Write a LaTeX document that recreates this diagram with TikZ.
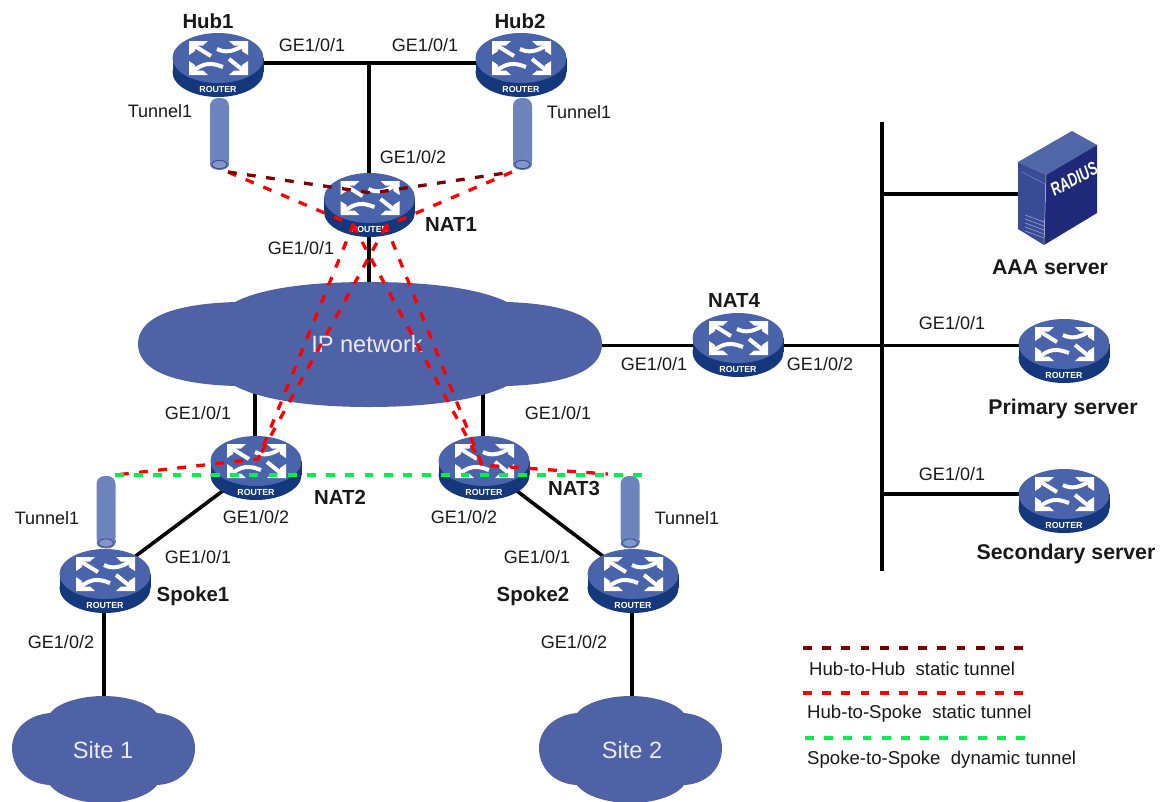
\documentclass[tikz,border=0pt]{standalone}
\usepackage{fontspec}
\usepackage{graphicx}
\setmainfont{Liberation Sans}
\usetikzlibrary{shapes.geometric}
\pgfdeclarelayer{background}
\pgfsetlayers{background,main}
\definecolor{rtop}{HTML}{4A64AC}
\definecolor{rbase}{HTML}{15377B}
\definecolor{cloudblue}{HTML}{4F62A5}
\definecolor{tubeblue}{HTML}{6C83BD}
\definecolor{tubeedge}{HTML}{3D5296}
\definecolor{hubbrown}{HTML}{7E0000}
\definecolor{tunred}{HTML}{FF0000}
\definecolor{tungreen}{HTML}{00F24A}
\definecolor{srvtop}{HTML}{4F66A8}
\definecolor{srvleft}{HTML}{3A4B96}
\definecolor{srvright}{HTML}{1E2A78}
\tikzset{
  lab/.style={inner sep=0pt,font=\fontsize{18}{20}\selectfont,text=black!90},
  boldlab/.style={inner sep=0pt,font=\fontsize{20.4}{22}\selectfont\bfseries,text=black!90},
  srvlab/.style={inner sep=0pt,font=\fontsize{21.3}{23}\selectfont\bfseries,text=black!90},
  leglab/.style={inner sep=0pt,anchor=west,font=\fontsize{18.6}{20}\selectfont,text=black!90},
  cloudlab/.style={inner sep=0pt,text=white!92!blue,font=\fontsize{23.6}{25}\selectfont},
  wire/.style={line width=3.6pt,black},
  dashline/.style={line width=3.3pt,dash pattern=on 8.8pt off 10.4pt},
  hubdash/.style={dashline,hubbrown},
  reddash/.style={dashline,tunred},
  greendash/.style={dashline,tungreen},
  cloudfill/.style={fill=cloudblue},
  routeranchor/.style={ellipse,inner sep=0pt,minimum width=90pt,minimum height=60pt},
  rlabel/.style={inner sep=0pt,text=white,font=\fontsize{8.8}{9}\selectfont\bfseries},
  glyph/.style={white,line width=4pt}
}
\newcommand{\RouterAt}[3]{%
  \begin{scope}[shift={(#2,#3)}]
    \fill[rbase] (-45.5,0) rectangle (45.5,14);
    \fill[rbase] (0,14) ellipse [x radius=45.5pt,y radius=25pt];
    \fill[rtop] (0,0) ellipse [x radius=45.5pt,y radius=25pt];
    \fill[white] (-29,-17) -- (-10,-17) -- (-15,-12.5) -- (-22.5,-12.5) -- (-23,-7) -- (-29,-3) -- cycle;
    \fill[white] (30,-17) -- (11,-17) -- (16,-12.5) -- (23.5,-12.5) -- (24,-7) -- (30,-3) -- cycle;
    \fill[white] (-29,17) -- (-10,17) -- (-15,12.5) -- (-22.5,12.5) -- (-23,7) -- (-29,3) -- cycle;
    \fill[white] (30,17) -- (11,17) -- (16,12.5) -- (23.5,12.5) -- (24,7) -- (30,3) -- cycle;
    \draw[glyph] (-25,-13) -- (-7,-2);
    \draw[glyph] (26,-13) .. controls (15,-6) and (7,-5) .. (-1,-9);
    \draw[glyph] (-25,13) .. controls (-14,5) and (-8,4) .. (5,9);
    \draw[glyph] (26,13) -- (11,1);
    \node[rlabel] (#1-mark) at (0,31) {ROUTER};
  \end{scope}
  \node[routeranchor] (#1) at (#2,#3+5) {};
}
\newcommand{\TubeAt}[4]{% name, x, ytop, ybottom-ellipse-centre
  \fill[tubeblue,rounded corners=8pt] (#2-9.5,#3) rectangle (#2+9.5,#4+3);
  \fill[tubeblue] (#2-9.5,#4-3) rectangle (#2+9.5,#4);
  \fill[tubeblue] (#2,#4) ellipse [x radius=9.5pt,y radius=5.5pt];
  \draw[tubeedge,line width=1pt,fill=tubeblue!85!white] (#2,#4) ellipse [x radius=7.5pt,y radius=4.2pt];
  \coordinate (#1) at (#2,#3);
}
\begin{document}
\begin{tikzpicture}[x=1pt,y=-1pt]
\useasboundingbox (0,0) rectangle (1164,801);

% clouds
\fill[cloudfill] (235,302) .. controls (262,288) and (310,282) .. (369,282)
  .. controls (428,282) and (478,288) .. (507,302)
  .. controls (568,304) and (602,318) .. (602,344)
  .. controls (602,370) and (568,384) .. (507,386)
  .. controls (478,400) and (428,407) .. (369,407)
  .. controls (310,407) and (262,400) .. (235,386)
  .. controls (172,384) and (138,370) .. (138,344)
  .. controls (138,318) and (172,304) .. (235,302) -- cycle;
\node[cloudlab] (ipnet) at (367,344) {IP network};
\fill[cloudfill] (50,713) .. controls (58,703) and (80,696) .. (103.5,696)
  .. controls (127,696) and (149,703) .. (157,713)
  .. controls (180,715) and (195,730) .. (195,748)
  .. controls (195,768) and (180,784) .. (157,785)
  .. controls (149,796) and (127,803) .. (103.5,803)
  .. controls (80,803) and (58,796) .. (50,785)
  .. controls (27,784) and (12,768) .. (12,748)
  .. controls (12,730) and (27,715) .. (50,713) -- cycle;
\node[cloudlab] (site1) at (103,750) {Site 1};
\fill[cloudfill] (577,713) .. controls (585,703) and (607,696) .. (630.5,696)
  .. controls (654,696) and (676,703) .. (684,713)
  .. controls (707,715) and (722,730) .. (722,748)
  .. controls (722,768) and (707,784) .. (684,785)
  .. controls (676,796) and (654,803) .. (630.5,803)
  .. controls (607,803) and (585,796) .. (577,785)
  .. controls (554,784) and (539,768) .. (539,748)
  .. controls (539,730) and (554,715) .. (577,713) -- cycle;
\node[cloudlab] (site2) at (632,750) {Site 2};

% routers
\RouterAt{hub1}{218}{58}
\RouterAt{hub2}{521}{58}
\RouterAt{nat1}{369.5}{198}
\RouterAt{nat2}{256}{461}
\RouterAt{nat3}{484}{461}
\RouterAt{nat4}{738}{338}
\RouterAt{spoke1}{105}{574}
\RouterAt{spoke2}{633}{574}
\RouterAt{primary}{1064}{344}
\RouterAt{secondary}{1064}{494}

% tunnels
\TubeAt{tub1}{219.5}{98}{164.5}
\TubeAt{tub2}{522.5}{98}{164.5}
\TubeAt{tub3}{106}{476}{543}
\TubeAt{tub4}{630}{476}{543}

% RADIUS server
\fill[srvtop] (1018,162) -- (1072,131) -- (1097,145) -- (1046,175) -- cycle;
\fill[srvleft] (1018,162) -- (1046,175) -- (1044,245) -- (1018,229) -- cycle;
\fill[srvright] (1046,175) -- (1097,145) -- (1097,213) -- (1044,245) -- cycle;
\draw[white!70!srvleft,line width=.5pt] (1046,175) -- (1044,245);
\draw[srvtop!80!white,line width=.6pt] (1022,172) -- (1045,184);
\foreach \vy in {215,219,223,227,231}{
  \draw[srvtop!60!white,line width=.6pt] (1025,\vy) -- (1044,\vy+7);
}
\node[inner sep=0pt,rotate=28,text=white,font=\fontsize{13.2}{14}\selectfont\bfseries\itshape] (radiustext) at (1074,179) {\scalebox{1}[1.4]{RADIUS}};
\node[inner sep=0pt,minimum width=2pt,minimum height=2pt] (aaa) at (1020,194) {};

% junctions and free ends
\coordinate (jtop) at (369,63);
\coordinate (ipn) at (369,300);
\coordinate (ipsw) at (255,380);
\coordinate (ipse) at (483,380);
\coordinate (ipe) at (590,345.5);
\coordinate (bust) at (882,122);
\coordinate (busb) at (882,571);
\coordinate (bus1) at (882,194);
\coordinate (bus2) at (882,345.5);
\coordinate (bus3) at (882,494);
\coordinate (s1c) at (104,720);
\coordinate (s2c) at (632,720);
\coordinate (s1top) at (104,600);
\coordinate (s2top) at (632,600);

\begin{pgfonlayer}{background}
  \draw[wire] (hub1.center |- jtop) -- (jtop) -- (hub2.center |- jtop);
  \draw[wire] (jtop) -- (nat1.center -| jtop);
  \draw[wire] (nat1.center -| ipn) -- (ipn);
  \draw[wire] (ipsw) -- (nat2.center -| ipsw);
  \draw[wire] (ipse) -- (nat3.center -| ipse);
  \draw[wire] (ipe) -- (bus2);
  \draw[wire] (bust) -- (busb);
  \draw[wire] (bus1) -- (aaa.center |- bus1);
  \draw[wire] (bus2) -- (primary.center |- bus2);
  \draw[wire] (bus3) -- (secondary.center |- bus3);
  \draw[wire] (nat2) -- (spoke1);
  \draw[wire] (nat3) -- (spoke2);
  \draw[wire] (s1top) -- (s1c);
  \draw[wire] (s2top) -- (s2c);
\end{pgfonlayer}

% tunnel paths
\coordinate (h1e) at (228,172);
\coordinate (h2e) at (512,172);
\coordinate (midv) at (372,193);
\coordinate (n1l) at (353,225);
\coordinate (n1r) at (386,226);
\coordinate (n2e) at (258,459);
\coordinate (n3e) at (482,465);
\coordinate (s1e) at (115,475);
\coordinate (s2e) at (608,474);
\coordinate (gl) at (115,475);
\coordinate (gr) at (642,475);
\draw[reddash] (h1e) -- (n1l) -- (n2e) -- (s1e);
\draw[reddash] (h2e) -- (n1r) -- (n3e) -- (s2e);
\draw[reddash] (n1l) -- (n3e);
\draw[reddash] (n1r) -- (n2e);
\draw[hubdash] (h1e) -- (midv) -- (h2e);
\draw[greendash] (gl) -- (gr);

% labels
\node[boldlab] (lhub1) at (208,21) {Hub1};
\node[boldlab] (lhub2) at (520,21) {Hub2};
\node[boldlab] (lnat1) at (451,224) {NAT1};
\node[boldlab] (lnat2) at (340,497) {NAT2};
\node[boldlab] (lnat3) at (574,488) {NAT3};
\node[boldlab] (lnat4) at (734,300) {NAT4};
\node[boldlab] (lspoke1) at (193,596) {Spoke1};
\node[boldlab] (lspoke2) at (533,596) {Spoke2};
\node[srvlab] (laaa) at (1050,267) {AAA server};
\node[srvlab] (lprim) at (1063,409) {Primary server};
\node[srvlab] (lsec) at (1066,554) {Secondary server};
\node[lab] (g1) at (312,45) {GE1/0/1};
\node[lab] (g2) at (425,45) {GE1/0/1};
\node[lab] (g3) at (413,157) {GE1/0/2};
\node[lab] (g4) at (301,248) {GE1/0/1};
\node[lab] (g5) at (198,413) {GE1/0/1};
\node[lab] (g6) at (558,413) {GE1/0/1};
\node[lab] (g7) at (654,364) {GE1/0/1};
\node[lab] (g8) at (820,364) {GE1/0/2};
\node[lab] (g9) at (952,323) {GE1/0/1};
\node[lab] (g10) at (952,474) {GE1/0/1};
\node[lab] (g11) at (256,517) {GE1/0/2};
\node[lab] (g12) at (198,557) {GE1/0/1};
\node[lab] (g13) at (464,517) {GE1/0/2};
\node[lab] (g14) at (537,557) {GE1/0/1};
\node[lab] (g15) at (61,642) {GE1/0/2};
\node[lab] (g16) at (574,642) {GE1/0/2};
\node[lab] (t1) at (160,111) {Tunnel1};
\node[lab] (t2) at (579,112) {Tunnel1};
\node[lab] (t3) at (47,518) {Tunnel1};
\node[lab] (t4) at (687,518) {Tunnel1};

% legend
\coordinate (lg1a) at (803,648);
\coordinate (lg1b) at (1027,648);
\coordinate (lg2a) at (803,693);
\coordinate (lg2b) at (1027,693);
\coordinate (lg3a) at (805,738);
\coordinate (lg3b) at (1029,738);
\draw[hubdash] (lg1a) -- (lg1b);
\draw[reddash] (lg2a) -- (lg2b);
\draw[greendash] (lg3a) -- (lg3b);
\node[leglab] (leg1) at (809,669) {Hub-to-Hub\ \ static tunnel};
\node[leglab] (leg2) at (807,714) {Hub-to-Spoke\ \ static tunnel};
\node[leglab] (leg3) at (807,760) {Spoke-to-Spoke\ \ dynamic tunnel};
\end{tikzpicture}
\end{document}
